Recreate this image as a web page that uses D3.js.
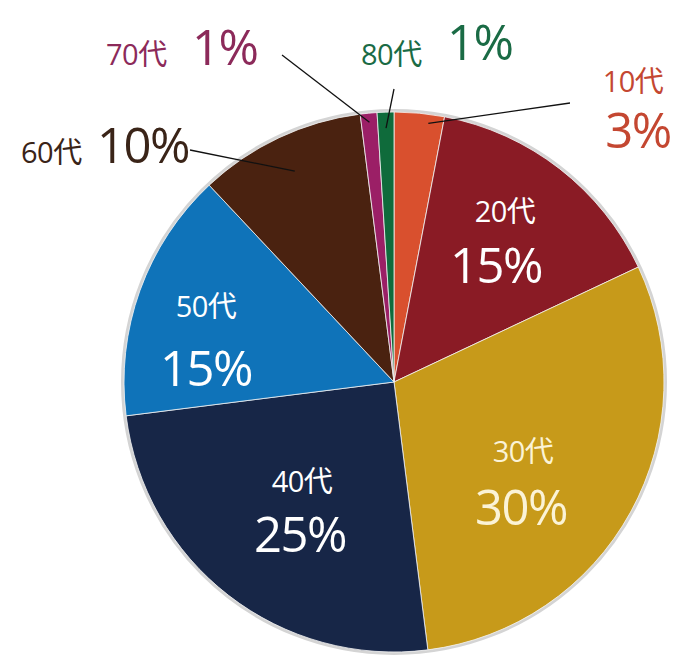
<!DOCTYPE html>
<html>
<head>
<meta charset="utf-8">
<script src="https://cdn.jsdelivr.net/npm/d3@7"></script>
<style>
  body { margin: 0; background: #fff; }
  text { font-family: "Open Sans", "Noto Sans CJK JP", sans-serif; }
</style>
</head>
<body>
<div id="chart"></div>
<script>
// data: age groups and their share (%)
var categories = ["10代", "20代", "30代", "40代", "50代", "60代", "70代", "80代"];
var values = [3, 15, 30, 25, 15, 10, 1, 1];
var percentLabels = ["3%", "15%", "30%", "25%", "15%", "10%", "1%", "1%"];

var sliceColors = ["#d9502e", "#8a1b25", "#c79a1a", "#172647", "#0f73b9", "#4a2210", "#9b1f66", "#0f6b3b"];

var width = 693, height = 671;
var cx = 394, cy = 382, radius = 270;

// hand placed labels (layout only)
// inside ones: [x of small label, baseline, x of big label, baseline]
var insideLabels = {
    "20代": [505, 222, 496, 283],
    "30代": [523, 462, 521, 525],
    "40代": [302, 492, 300, 552],
    "50代": [206, 317, 206, 386]
};
// outside ones: label positions + leader line end
var outsideLabels = {
    "10代": {anchor: "middle", small: [633, 92], big: [638, 148], color: "#c44731", line: [570, 103], r: 261},
    "80代": {anchor: "start", small: [361, 65], big: [447, 60], color: "#1a6b45", line: [394, 89], r: 254},
    "70代": {anchor: "start", small: [106, 65], big: [192, 65], color: "#8c2a5a", line: [282, 55], r: 261},
    "60代": {anchor: "start", small: [21, 163], big: [97, 163], color: "#3a2418", line: [190, 150], r: 233}
};

var svg = d3.select("#chart").append("svg")
    .attr("width", width)
    .attr("height", height);

var g = svg.append("g")
    .attr("transform", "translate(" + cx + "," + cy + ")");

var pie = d3.pie().sort(null).value(function(d) { return d; });
var arcs = pie(values);

var arc = d3.arc().innerRadius(0).outerRadius(radius);

// soft grey rim around the pie
g.append("circle")
    .attr("r", radius + 1.5)
    .attr("fill", "none")
    .attr("stroke", "#d4d4d4")
    .attr("stroke-width", 3);

g.selectAll(".slice")
    .data(arcs)
    .enter()
    .append("path")
    .attr("class", "slice")
    .attr("d", arc)
    .attr("fill", function(d, i) { return sliceColors[i]; })
    .attr("stroke", "#f2f2f2")
    .attr("stroke-width", 0.8);

function addText(x, y, anchor, size, color, str) {
    svg.append("text")
        .attr("x", x).attr("y", y)
        .attr("text-anchor", anchor)
        .style("font-size", size + "px")
        .style("letter-spacing", size > 40 ? "-1.5px" : "-0.5px")
        .attr("fill", color)
        .text(str);
}

// labels inside the bigger slices
arcs.forEach(function(d, i) {
    var name = categories[i];
    var pos = insideLabels[name];
    if (!pos) return;
    var fill = name == "30代" ? "#fbf3d6" : "#fff";
    addText(pos[0], pos[1], "middle", 29, fill, name);
    addText(pos[2], pos[3], "middle", 49, fill, percentLabels[i]);
});

// labels outside with leader lines
arcs.forEach(function(d, i) {
    var name = categories[i];
    var o = outsideLabels[name];
    if (!o) return;
    var mid = (d.startAngle + d.endAngle) / 2;
    if (name == "10代") mid = d.startAngle + (d.endAngle - d.startAngle) * 0.7;
    var px = cx + Math.sin(mid) * o.r;
    var py = cy - Math.cos(mid) * o.r;

    svg.append("line")
        .attr("x1", px).attr("y1", py)
        .attr("x2", o.line[0]).attr("y2", o.line[1])
        .attr("stroke", "#111")
        .attr("stroke-width", 1.3);

    addText(o.small[0], o.small[1], o.anchor, 29, o.color, name);
    addText(o.big[0], o.big[1], o.anchor, 49, o.color, percentLabels[i]);
});
</script>
</body>
</html>
